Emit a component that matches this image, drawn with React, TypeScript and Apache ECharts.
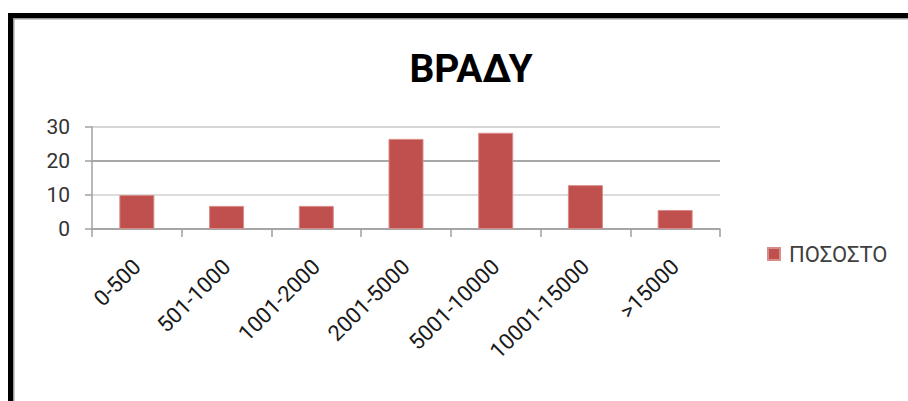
import React, { useEffect, useRef } from "react";
import * as echarts from "echarts";

const categories = ["0-500", "501-1000", "1001-2000", "2001-5000", "5001-10000", "10001-15000", ">15000"];
const seriesName = "ΠΟΣΟΣΤΟ";
const values = [10, 6.8, 6.8, 26.5, 28.3, 12.9, 5.6];
const yTicks = [0, 10, 20, 30];
const titleText = "ΒΡΑΔΥ";

export default function App() {
  const ref = useRef<HTMLDivElement>(null);
  useEffect(() => {
    if (!ref.current) return;
    const chart = echarts.init(ref.current, null, { renderer: "svg" });
    chart.setOption({
      animation: false,
      backgroundColor: "#ffffff",
      textStyle: { fontFamily: "Roboto" },
      title: {
        text: titleText,
        left: 466,
        top: 44,
        textAlign: "center",
        textStyle: { fontFamily: "Roboto", fontWeight: "bold", fontSize: 39, color: "#000" },
      },
      legend: {
        data: [seriesName],
        left: 762,
        top: 238,
        itemWidth: 12,
        itemHeight: 12,
        icon: "rect",
        textStyle: { fontFamily: "Roboto", fontSize: 22, color: "#404040", padding: [0, 0, 0, 4] },
      },
      grid: { left: 92, right: 188, top: 127, bottom: 172, containLabel: false },
      xAxis: {
        type: "category",
        data: categories,
        axisLine: { show: true, lineStyle: { color: "#a0a0a0", width: 1.5 } },
        axisTick: { show: true, length: 8, lineStyle: { color: "#a0a0a0", width: 1.5 }, alignWithLabel: false },
        axisLabel: {
          rotate: 45,
          margin: 34,
          interval: 0,
          fontFamily: "Roboto",
          fontSize: 22,
          color: "#1a1a1a",
        },
      },
      yAxis: {
        type: "value",
        min: yTicks[0],
        max: yTicks[yTicks.length - 1],
        interval: 10,
        axisLine: { show: true, lineStyle: { color: "#a0a0a0", width: 1.5 } },
        axisTick: { show: true, length: 7, lineStyle: { color: "#a0a0a0", width: 1.5 } },
        axisLabel: { margin: 22, fontFamily: "Roboto", fontSize: 21, color: "#333" },
        splitLine: {
          show: true,
          lineStyle: { color: ["#a0a0a0", "#d0d0d0", "#8a8a8a", "#c8c8c8"], width: 1.5 },
        },
      },
      series: [
        {
          name: seriesName,
          type: "bar",
          data: values,
          barWidth: 35,
          itemStyle: { color: "#C0504D", borderColor: "#d98b89", borderWidth: 1 },
        },
      ],
      graphic: [
        { type: "rect", shape: { x: 8, y: 13, width: 900, height: 5 }, style: { fill: "#000" }, silent: true },
        { type: "rect", shape: { x: 13, y: 18, width: 895, height: 1.5 }, style: { fill: "#9a9a9a" }, silent: true },
        { type: "rect", shape: { x: 8, y: 13, width: 5, height: 388 }, style: { fill: "#000" }, silent: true },
        { type: "rect", shape: { x: 13, y: 18, width: 1.5, height: 383 }, style: { fill: "#9a9a9a" }, silent: true },
      ],
    });
    return () => chart.dispose();
  }, []);
  return (
    <div
      ref={ref}
      style={{ position: "fixed", left: 0, top: 0, width: 908, height: 401, background: "#fff" }}
    />
  );
}
